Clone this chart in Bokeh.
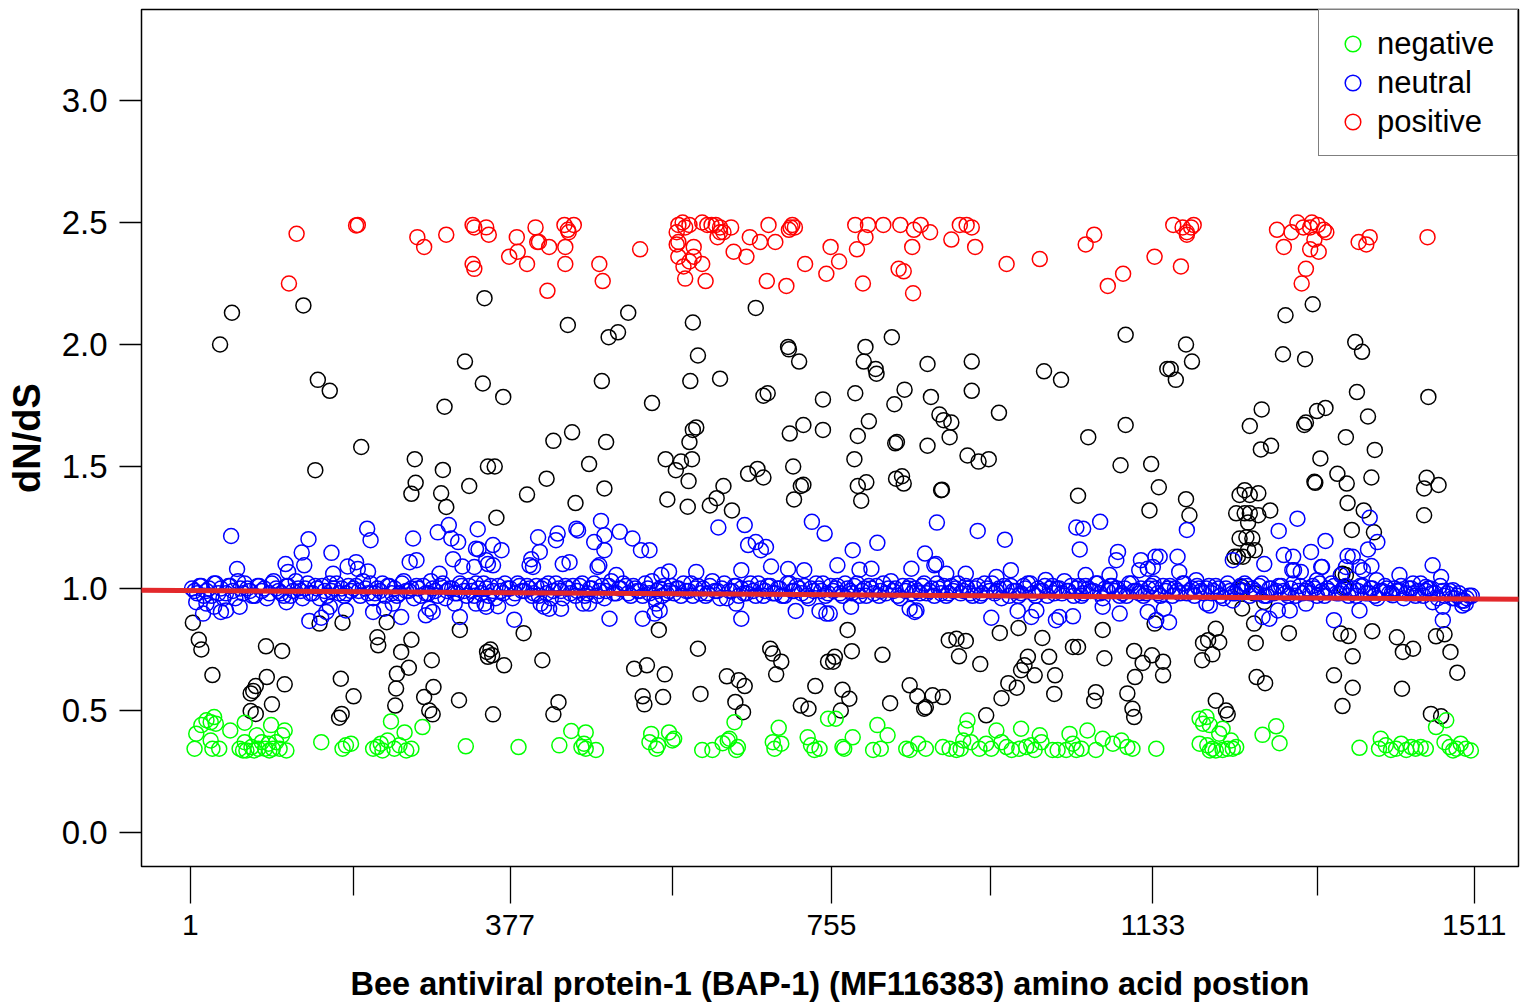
from bokeh.plotting import figure
from bokeh.models import Range1d, FixedTicker, PrintfTickFormatter, Slope
from bokeh.embed import file_html
from bokeh.resources import INLINE

# ---------------- data (amino acid position, dN/dS) ----------------
black_pts = [
    (50,2.13),(36,2.00),(134,2.16),(151,1.855),(165,1.81),(300,1.745),(324,1.93),(347,2.19),(345,1.84),(202,1.58),
    (148,1.485),(265,1.53),(266,1.433),(261,1.388),(298,1.486),(296,1.39),(302,1.334),(329,1.42),(351,1.50),
    (516,2.13),(504,2.05),(493,2.03),(445,2.08),(592,2.09),(666,2.15),(598,1.955),(704,1.99),(705,1.98),(717,1.93),
    (369,1.785),(485,1.85),(544,1.76),(589,1.85),(624,1.86),(675,1.79),(680,1.80),(745,1.775),(450,1.64),(428,1.605),
    (490,1.60),(596,1.66),(592,1.65),(588,1.60),(706,1.635),(722,1.67),(745,1.65),(359,1.50),(470,1.51),(420,1.45),
    (397,1.385),(488,1.41),(454,1.35),(361,1.29),(560,1.53),(578,1.52),(572,1.485),(591,1.53),(587,1.44),(562,1.365),
    (586,1.335),(628,1.42),(620,1.37),(612,1.34),(638,1.32),(657,1.47),(668,1.49),(675,1.455),(710,1.50),(719,1.42),
    (722,1.425),(711,1.365),
    (826,2.03),(795,1.99),(793,1.93),(807,1.90),(808,1.88),(868,1.92),(920,1.93),(1005,1.89),(1025,1.855),(1101,2.04),
    (1150,1.90),(783,1.80),(841,1.815),(829,1.755),(872,1.785),(920,1.81),(952,1.72),(799,1.685),(786,1.625),(830,1.595),
    (832,1.60),(868,1.585),(882,1.713),(887,1.69),(896,1.68),(894,1.62),(915,1.545),(928,1.52),(940,1.53),(1101,1.67),
    (1057,1.62),(1095,1.505),(1131,1.51),(1140,1.415),(782,1.53),(786,1.42),(796,1.435),(790,1.36),(831,1.45),(838,1.46),
    (840,1.43),(884,1.403),(885,1.405),(1045,1.38),(1129,1.32),
    (1321,2.165),(1289,2.12),(1172,2.00),(1179,1.93),(1154,1.90),(1160,1.855),(1286,1.96),(1312,1.94),(1371,2.01),(1379,1.97),
    (1457,1.785),(1373,1.805),(1261,1.734),(1247,1.666),(1326,1.727),(1336,1.74),(1313,1.68),(1311,1.67),(1386,1.705),(1360,1.62),
    (1394,1.568),(1260,1.57),(1272,1.585),(1330,1.533),(1350,1.47),(1361,1.43),(1390,1.455),(1323,1.437),(1324,1.433),(1455,1.454),
    (1452,1.41),(1469,1.424),(1452,1.30),(1172,1.366),(1176,1.30),(1362,1.35),(1381,1.32),(1393,1.23),(1367,1.24),
    (1241,1.403),(1235,1.383),(1247,1.383),(1257,1.39),(1231,1.308),(1241,1.308),(1247,1.308),(1257,1.30),(1271,1.32),(1245,1.27),
    (1235,1.205),(1243,1.21),(1250,1.205),(1245,1.157),(1253,1.157),(1229,1.13),(1233,1.13),(1239,1.13),
    (4,0.86),(11,0.79),(14,0.75),(27,0.645),(90,0.763),(109,0.744),(91,0.637),(112,0.607),(78,0.60),(72,0.57),
    (75,0.58),(97,0.525),(72,0.498),(78,0.486),(178,0.63),(193,0.558),(176,0.47),(179,0.486),(153,0.856),(180,0.86),
    (221,0.80),(222,0.767),(261,0.79),(249,0.74),(258,0.675),(244,0.65),(243,0.59),(242,0.52),(232,0.862),(285,0.706),
    (287,0.596),(276,0.555),(282,0.50),(286,0.484),(318,0.83),(317,0.542),(350,0.74),(351,0.72),
    (393,0.817),(354,0.75),(356,0.726),(370,0.685),(415,0.706),(357,0.484),(434,0.534),(428,0.484),(552,0.83),(523,0.671),
    (538,0.685),(559,0.648),(533,0.558),(535,0.525),(557,0.555),(598,0.753),(601,0.568),(632,0.64),(646,0.624),(653,0.60),
    (642,0.535),(651,0.493),(683,0.753),(686,0.733),(696,0.70),(690,0.648),(736,0.60),(719,0.52),(728,0.507),(751,0.70),
    (774,0.83),(779,0.743),(759,0.72),(757,0.70),(815,0.728),(768,0.585),(776,0.548),(766,0.50),(824,0.53),(847,0.603),
    (856,0.558),(874,0.562),(886,0.555),(864,0.507),(866,0.513),(893,0.788),(902,0.794),(913,0.785),(905,0.722),(930,0.69),
    (937,0.48),(953,0.818),(975,0.838),(1003,0.797),(986,0.72),(982,0.685),(978,0.665),(994,0.644),(963,0.612),(973,0.593),
    (955,0.55),(1011,0.72),(1018,0.644),(1017,0.568),(1039,0.76),(1045,0.76),(1074,0.83),(1076,0.714),(1066,0.575),(1064,0.54),
    (1111,0.744),(1132,0.726),(1121,0.695),(1145,0.70),(1145,0.644),(1112,0.637),(1103,0.57),(1109,0.507),(1111,0.473),(1135,0.856),
    (1207,0.835),(1211,0.78),(1198,0.788),(1192,0.777),(1203,0.73),(1191,0.706),(1207,0.54),(1219,0.50),(1221,0.484),(1238,0.918),
    (1237,0.993),(1252,0.856),(1254,0.777),(1255,0.637),(1265,0.612),(1293,0.817),(1354,0.815),(1363,0.805),(1368,0.722),(1346,0.644),
    (1368,0.593),(1356,0.518),(1356,1.06),(1360,1.055),(1358,1.006),(1391,0.825),(1420,0.80),(1427,0.74),(1439,0.753),(1426,0.589),
    (1466,0.804),(1476,0.812),(1483,0.74),(1491,0.655),(1460,0.486),(1472,0.476),(1252,0.98),(1264,0.945),(1238,1.006),
]

negative_pts = [
    (6,0.343),(8,0.405),(14,0.44),(20,0.46),(25,0.452),(29,0.473),(31,0.446),(25,0.377),(27,0.343),(35,0.343),
    (48,0.418),(65,0.45),(59,0.343),(65,0.37),(67,0.336),(73,0.35),(79,0.398),(81,0.343),(85,0.37),(89,0.343),
    (93,0.364),(96,0.44),(98,0.343),(102,0.37),(106,0.343),(109,0.398),(112,0.418),(114,0.336),(63,0.336),(76,0.336),
    (94,0.336),(155,0.37),(180,0.343),(184,0.357),(190,0.364),(216,0.343),(221,0.35),(227,0.336),(233,0.377),(237,0.455),
    (241,0.343),(247,0.357),(253,0.41),(255,0.336),(261,0.343),(225,0.364),(274,0.432),(325,0.353),
    (387,0.35),(435,0.357),(449,0.416),(466,0.41),(464,0.364),(466,0.343),(478,0.338),(461,0.35),(543,0.404),(541,0.37),
    (549,0.343),(551,0.357),(564,0.41),(568,0.377),(570,0.384),(603,0.338),(615,0.338),(627,0.366),(633,0.377),(635,0.384),
    (645,0.35),(643,0.338),(641,0.452),(693,0.429),(686,0.37),(688,0.343),(696,0.364),(727,0.39),(731,0.357),(735,0.338),
    (751,0.466),(741,0.343),(760,0.466),(770,0.343),(780,0.39),(768,0.35),(809,0.44),(821,0.398),(804,0.338),(813,0.343),
    (843,0.343),(847,0.338),(857,0.364),(866,0.343),(886,0.35),(894,0.343),(902,0.338),(910,0.377),(913,0.425),(915,0.459),
    (919,0.37),(907,0.343),(929,0.343),(937,0.364),(943,0.343),(949,0.418),(955,0.37),(961,0.35),(967,0.338),(978,0.425),
    (976,0.343),(984,0.35),(990,0.357),(994,0.338),(1000,0.398),(1002,0.37),(1015,0.338),(1021,0.338),(1031,0.338),(1035,0.404),
    (1039,0.364),(1043,0.338),(1049,0.343),(1056,0.418),(1066,0.338),(1074,0.384),(1086,0.364),(1096,0.377),(1103,0.35),(1109,0.343),
    (1137,0.343),(1188,0.466),(1196,0.473),(1192,0.446),(1200,0.44),(1215,0.425),(1225,0.377),(1211,0.405),(1188,0.364),(1197,0.357),
    (1203,0.343),(1207,0.336),(1215,0.338),(1221,0.343),(1227,0.343),(1231,0.35),(1200,0.336),(1262,0.40),(1278,0.435),(1282,0.366),
    (1376,0.347),(1401,0.384),(1407,0.357),(1413,0.338),(1419,0.343),(1425,0.364),(1431,0.338),(1437,0.35),(1442,0.343),(1448,0.35),
    (1454,0.343),(1399,0.343),(1478,0.46),(1466,0.432),(1476,0.37),(1482,0.35),(1490,0.343),(1495,0.364),(1501,0.343),(1507,0.336),
    (1486,0.336),
]

# dense run of neutral sites sitting on dN/dS ~ 1
neutral_band_pos = [
    3, 9, 14, 20, 26, 31, 37, 43, 48, 54,
    60, 65, 71, 77, 82, 88, 94, 99, 105, 111,
    116, 122, 128, 133, 139, 145, 150, 156, 162, 167,
    173, 179, 184, 190, 196, 201, 207, 213, 218, 224,
    230, 235, 241, 247, 252, 258, 264, 269, 275, 281,
    286, 292, 298, 303, 309, 315, 320, 326, 332, 337,
    343, 349, 354, 360, 366, 371, 377, 383, 388, 394,
    400, 405, 411, 417, 422, 428, 434, 439, 445, 451,
    456, 462, 468, 473, 479, 485, 490, 496, 502, 507,
    513, 519, 524, 530, 536, 541, 547, 553, 558, 564,
    570, 575, 581, 587, 592, 598, 604, 609, 615, 621,
    626, 632, 638, 643, 649, 655, 660, 666, 672, 677,
    683, 689, 694, 700, 706, 711, 717, 723, 728, 734,
    740, 745, 751, 757, 762, 768, 774, 779, 785, 791,
    796, 802, 808, 813, 819, 825, 830, 836, 842, 847,
    853, 859, 864, 870, 876, 881, 887, 893, 898, 904,
    910, 915, 921, 927, 932, 938, 944, 949, 955, 961,
    966, 972, 978, 983, 989, 995, 1000, 1006, 1012, 1017,
    1023, 1029, 1034, 1040, 1046, 1051, 1057, 1063, 1068, 1074,
    1080, 1085, 1091, 1097, 1102, 1108, 1114, 1119, 1125, 1131,
    1136, 1142, 1148, 1153, 1159, 1165, 1170, 1176, 1182, 1187,
    1193, 1199, 1204, 1210, 1216, 1221, 1227, 1233, 1238, 1244,
    1250, 1255, 1261, 1267, 1272, 1278, 1284, 1289, 1295, 1301,
    1306, 1312, 1318, 1323, 1329, 1335, 1340, 1346, 1352, 1357,
    1363, 1369, 1374, 1380, 1386, 1391, 1397, 1403, 1408, 1414,
    1420, 1425, 1431, 1437, 1442, 1448, 1454, 1459, 1465, 1471,
    1476, 1482, 1488, 1493, 1499, 1505,
]
neutral_band_val = [
    1.00, 0.98, 1.01, 0.99, 0.97, 1.02, 1.00, 0.98, 1.01, 0.96,
    1.00, 1.02, 0.99, 0.97, 1.01, 1.00, 0.98, 1.03, 0.99, 0.97,
    1.01, 0.99, 1.00, 0.96, 1.02, 0.98, 1.00, 1.01, 0.97, 0.99,
    1.02, 1.00, 0.98, 0.99, 1.01, 0.97, 1.00, 1.02, 0.98, 0.99,
    0.97, 1.01, 1.00, 0.98, 1.03, 0.99, 0.96, 1.00, 1.01, 0.98,
    1.00, 0.97, 1.02, 0.99, 1.00, 0.98, 1.01, 0.97, 0.99, 1.02,
    0.98, 1.00, 1.01, 0.96, 0.99, 1.02, 1.00, 0.98, 1.01, 0.99,
    1.00, 0.98, 0.97, 1.01, 1.02, 0.99, 1.00, 0.96, 1.00, 1.01,
    0.99, 1.02, 0.98, 1.00, 0.97, 1.01, 0.99, 1.03, 0.98, 1.00,
    1.01, 0.97, 1.00, 0.99, 1.02, 0.98, 0.96, 1.00, 1.01, 0.99,
    0.98, 1.00, 1.02, 0.99, 0.97, 1.01, 1.00, 0.98, 1.03, 0.99,
    1.00, 0.96, 0.99, 1.01, 1.00, 0.98, 1.02, 0.97, 1.00, 0.99,
    1.01, 0.98, 1.00, 0.97, 1.02, 0.99, 1.00, 1.01, 0.96, 0.99,
    1.00, 1.02, 0.98, 0.99, 1.01, 0.97, 1.00, 0.98, 1.02, 0.99,
    0.97, 1.00, 1.01, 0.99, 0.98, 1.03, 1.00, 0.96, 0.99, 1.01,
    1.00, 0.98, 1.02, 0.99, 0.97, 1.00, 1.01, 0.98, 0.99, 1.02,
    0.99, 1.00, 0.97, 1.01, 0.98, 1.00, 1.02, 0.99, 0.96, 1.00,
    1.01, 0.99, 0.98, 1.00, 1.02, 0.97, 0.99, 1.01, 1.00, 0.98,
    1.00, 1.03, 0.99, 0.97, 1.01, 0.98, 1.00, 0.99, 1.02, 0.96,
    0.99, 1.01, 1.00, 0.98, 0.97, 1.02, 0.99, 1.00, 0.98, 1.01,
    1.00, 0.97, 0.99, 1.01, 1.00, 0.98, 1.02, 0.99, 0.97, 1.00,
    0.98, 1.01, 0.99, 1.00, 0.96, 1.02, 0.98, 1.00, 0.99, 1.01,
    1.00, 0.98, 1.02, 0.97, 1.00, 0.99, 1.01, 0.98, 1.00, 0.97,
    1.01, 0.99, 0.98, 1.00, 1.02, 0.97, 0.99, 1.01, 0.98, 1.00,
    0.97, 1.00, 0.99, 1.01, 0.98, 1.00, 0.96, 0.99, 1.00, 0.98,
    0.99, 1.01, 0.98, 1.00, 0.97, 1.02, 0.99, 1.00, 0.98, 1.01,
    0.97, 0.99, 0.96, 0.98, 0.95, 0.97,
]
neutral_band2_pos = [
    6, 12, 17, 23, 29, 34, 40, 46, 51, 57,
    63, 68, 74, 80, 85, 91, 97, 102, 108, 114,
    119, 125, 131, 136, 142, 148, 153, 159, 165, 170,
    176, 182, 187, 193, 199, 204, 210, 216, 221, 227,
    233, 238, 244, 250, 255, 261, 267, 272, 278, 284,
    289, 295, 301, 306, 312, 318, 323, 329, 335, 340,
    346, 352, 357, 363, 369, 374, 380, 386, 391, 397,
    403, 408, 414, 420, 425, 431, 437, 442, 448, 454,
    459, 465, 471, 476, 482, 488, 493, 499, 505, 510,
    516, 522, 527, 533, 539, 544, 550, 556, 561, 567,
    573, 578, 584, 590, 595, 601, 607, 612, 618, 624,
    629, 635, 641, 646, 652, 658, 663, 669, 675, 680,
    686, 692, 697, 703, 709, 714, 720, 726, 731, 737,
    743, 748, 754, 760, 765, 771, 777, 782, 788, 794,
    799, 805, 811, 816, 822, 828, 833, 839, 845, 850,
    856, 862, 867, 873, 879, 884, 890, 896, 901, 907,
    913, 918, 924, 930, 935, 941, 947, 952, 958, 964,
    969, 975, 981, 986, 992, 998, 1003, 1009, 1015, 1020,
    1026, 1032, 1037, 1043, 1049, 1054, 1060, 1066, 1071, 1077,
    1083, 1088, 1094, 1100, 1105, 1111, 1117, 1122, 1128, 1134,
    1139, 1145, 1151, 1156, 1162, 1168, 1173, 1179, 1185, 1190,
    1196, 1202, 1207, 1213, 1219, 1224, 1230, 1236, 1241, 1247,
    1253, 1258, 1264, 1270, 1275, 1281, 1287, 1292, 1298, 1304,
    1309, 1315, 1321, 1326, 1332, 1338, 1343, 1349, 1355, 1360,
    1366, 1372, 1377, 1383, 1389, 1394, 1400, 1406, 1411, 1417,
    1423, 1428, 1434, 1440, 1445, 1451, 1457, 1462, 1468, 1474,
    1479, 1485, 1491, 1496, 1502, 1508,
]
neutral_band2_val = [
    0.99, 1.01, 0.97, 1.00, 1.02, 0.98, 0.96, 1.01, 0.99, 1.03,
    0.98, 1.00, 0.97, 1.01, 0.99, 0.96, 1.02, 1.00, 0.98, 1.01,
    0.97, 1.03, 0.99, 1.00, 0.98, 1.01, 0.96, 0.99, 1.02, 1.00,
    0.98, 0.97, 1.01, 1.00, 0.99, 1.03, 0.98, 0.96, 1.00, 1.02,
    1.01, 0.98, 0.97, 1.02, 0.99, 1.00, 1.01, 0.97, 0.98, 1.03,
    0.99, 1.01, 0.96, 1.00, 0.98, 1.02, 0.99, 1.01, 0.97, 1.00,
    1.02, 0.97, 0.99, 1.01, 0.98, 1.00, 0.96, 1.02, 0.99, 1.01,
    0.97, 1.01, 1.00, 0.98, 0.96, 1.02, 0.99, 1.01, 0.98, 0.97,
    1.01, 0.97, 1.00, 1.02, 0.99, 0.96, 1.01, 0.98, 1.00, 1.02,
    0.98, 1.01, 0.99, 0.97, 1.00, 1.03, 0.99, 0.97, 0.98, 1.01,
    1.00, 0.97, 0.99, 1.02, 1.00, 0.98, 0.97, 1.01, 0.99, 0.96,
    1.02, 0.99, 1.01, 0.97, 0.98, 1.00, 0.99, 1.02, 0.97, 1.01,
    0.98, 1.00, 0.97, 1.02, 0.99, 1.01, 0.98, 0.97, 1.00, 1.02,
    0.99, 0.97, 1.01, 1.00, 0.98, 1.02, 0.99, 1.01, 0.97, 1.00,
    1.01, 0.98, 0.97, 1.02, 1.00, 0.99, 0.97, 1.01, 1.00, 0.98,
    0.99, 1.01, 0.98, 1.00, 1.02, 0.98, 0.97, 1.01, 1.00, 0.98,
    1.01, 0.98, 1.00, 0.97, 1.02, 0.99, 0.98, 1.00, 1.01, 0.97,
    0.99, 0.97, 1.01, 1.02, 0.98, 1.00, 0.99, 0.97, 1.01, 1.00,
    0.98, 0.99, 1.01, 1.00, 0.97, 1.01, 0.99, 1.02, 0.98, 1.00,
    1.01, 0.99, 0.97, 1.00, 1.02, 0.99, 0.98, 0.97, 1.00, 1.02,
    0.98, 1.01, 1.00, 0.97, 0.99, 1.02, 0.98, 1.00, 1.01, 0.99,
    1.00, 0.98, 1.01, 0.97, 1.00, 0.99, 0.98, 1.01, 1.02, 0.97,
    0.99, 1.01, 0.97, 1.00, 0.98, 1.01, 0.99, 0.97, 1.02, 0.99,
    0.98, 1.00, 1.01, 0.97, 0.99, 1.00, 1.02, 0.98, 0.99, 1.01,
    0.99, 0.97, 1.01, 0.98, 1.00, 0.97, 0.99, 1.01, 0.98, 1.00,
    0.99, 0.96, 1.00, 0.98, 0.99, 0.97, 1.00, 0.98, 0.96, 0.99,
    0.98, 0.96, 0.97, 0.95, 0.96, 0.97,
]

neutral_pts = [
    (49,1.215),(56,1.08),(140,1.202),(132,1.147),(113,1.10),(135,1.095),(116,1.068),(167,1.146),(169,1.06),(186,1.09),
    (196,1.108),(198,1.08),(210,1.07),(209,1.245),(213,1.198),(263,1.205),(259,1.108),(267,1.116),(292,1.23),(305,1.26),
    (308,1.205),(316,1.19),(310,1.12),(321,1.09),(294,1.06),(339,1.243),(337,1.163),(340,1.16),(349,1.116),(335,1.088),
    (357,1.178),(367,1.157),(351,1.10),(410,1.21),(412,1.15),(402,1.12),(404,1.088),(433,1.225),(431,1.198),(455,1.245),
    (457,1.238),(447,1.108),(439,1.10),(484,1.277),(488,1.218),(476,1.19),(488,1.157),(506,1.232),(521,1.205),(531,1.157),
    (541,1.157),(480,1.088),(622,1.25),(653,1.26),(657,1.178),(666,1.19),(678,1.17),(672,1.157),(649,1.075),(596,1.068),
    (564,1.07),(704,1.08),(723,1.075),(732,1.273),(747,1.225),
    (879,1.27),(927,1.236),(959,1.20),(780,1.157),(809,1.187),(762,1.095),(788,1.077),(802,1.081),(865,1.143),(878,1.10),
    (849,1.081),(1043,1.25),(1051,1.245),(1071,1.273),(1047,1.16),(1092,1.15),(1090,1.116),(1119,1.116),(1136,1.13),(1117,1.075),
    (1127,1.081),(913,1.06),(949,1.047),(966,1.075),
    (1173,1.24),(1162,1.13),(1164,1.068),(1141,1.13),(1303,1.286),(1281,1.236),(1336,1.195),(1319,1.15),(1287,1.137),(1298,1.13),
    (1264,1.10),(1299,1.075),(1307,1.068),(1331,1.088),(1388,1.29),(1397,1.19),(1386,1.16),(1362,1.133),(1368,1.13),(1390,1.092),
    (1376,1.088),(1380,1.075),(1462,1.095),(1423,1.055),(1472,1.047),
    (16,0.897),(37,0.904),(43,0.91),(59,0.925),(29,0.925),(20,0.938),(8,0.944),(114,0.944),(141,0.867),(155,0.88),
    (161,0.904),(165,0.925),(184,0.91),(216,0.904),(229,0.917),(249,0.883),(239,0.938),(278,0.89),(282,0.917),(286,0.904),
    (312,0.938),(318,0.883),(337,0.938),(349,0.925),(347,0.938),(363,0.927),(382,0.872),(417,0.925),(423,0.917),(437,0.917),
    (413,0.938),(463,0.938),(470,0.938),(494,0.876),(533,0.876),(547,0.897),(553,0.91),(549,0.938),(649,0.876),(643,0.938),
    (713,0.908),(741,0.908),(749,0.897),(684,1.09),(555,1.055),(400,1.095),(482,1.095),(502,1.055),(357,1.095),
    (753,0.897),(778,0.925),(847,0.917),(853,0.904),(855,0.91),(943,0.88),(974,0.908),(990,0.883),(996,0.91),(1019,0.87),
    (1023,0.883),(1039,0.886),(1074,0.925),(1094,0.897),(1127,0.904),(1137,0.87),(876,1.095),(890,1.06),(1007,1.035),(1054,1.055),
    (1082,1.055),(1133,1.088),(1146,0.917),(1152,0.862),(1196,0.938),(1200,0.93),(1227,0.951),(1262,0.883),(1270,0.876),(1280,0.91),
    (1294,0.91),(1313,0.938),(1346,0.87),(1376,0.91),(1462,0.944),(1474,0.925),(1474,0.87),(1497,0.93),(1501,0.938),(1415,0.972),
    (1184,1.034),(1227,1.116),(1297,1.075),(1326,1.034),(1332,1.088),(1354,1.055),(1360,1.088),(1396,1.034),(1439,1.02),(1454,1.006),
    (1486,0.993),
]

positive_pts = [
    (117,2.25),(126,2.454),(196,2.488),(198,2.49),(268,2.44),(276,2.40),(302,2.45),(333,2.49),(335,2.48),(349,2.48),
    (352,2.45),(333,2.33),(335,2.31),(385,2.44),(376,2.36),(386,2.38),(397,2.33),(407,2.48),(409,2.42),(411,2.42),
    (423,2.40),(441,2.49),(452,2.49),(446,2.46),(442,2.40),(445,2.47),(442,2.33),(482,2.33),(486,2.26),(530,2.39),
    (421,2.22),(575,2.49),(580,2.50),(583,2.48),(588,2.49),(603,2.50),(609,2.49),(614,2.49),(619,2.49),(624,2.48),
    (637,2.48),(573,2.46),(575,2.42),(573,2.41),(575,2.36),(581,2.32),(583,2.27),(588,2.34),(593,2.40),(593,2.36),
    (603,2.33),(621,2.44),(624,2.46),(628,2.46),(607,2.26),(640,2.38),(655,2.36),(659,2.44),(671,2.42),(681,2.49),
    (689,2.42),(702,2.24),(707,2.48),(709,2.49),(712,2.48),(705,2.47),(679,2.26),(724,2.33),(749,2.29),(754,2.40),
    (764,2.34),(785,2.39),(783,2.49),(795,2.44),(798,2.49),(816,2.49),(836,2.49),(852,2.47),(860,2.49),(871,2.46),
    (850,2.40),(834,2.31),(840,2.30),(792,2.25),(851,2.21),(896,2.43),(906,2.49),(914,2.49),(920,2.48),(924,2.40),
    (961,2.33),(1000,2.35),(1054,2.41),(1064,2.45),(1080,2.24),(1098,2.29),(1135,2.36),(1166,2.32),(1157,2.49),(1168,2.48),
    (1173,2.46),(1178,2.48),(1173,2.45),(1181,2.49),(1279,2.47),(1287,2.40),(1296,2.46),(1303,2.50),(1308,2.25),(1313,2.31),
    (1318,2.39),(1320,2.50),(1327,2.49),(1328,2.38),(1334,2.47),(1337,2.46),(1323,2.43),(1318,2.48),(1310,2.48),(1375,2.42),
    (1384,2.41),(1388,2.44),(1456,2.44),
]

assert len(neutral_band_pos) == len(neutral_band_val)
assert len(neutral_band2_pos) == len(neutral_band2_val)

# linear trend of dN/dS along the protein
trend_intercept = 0.9915
trend_slope = -2.29e-5

x_major_ticks = [1, 377, 755, 1133, 1511]
x_minor_ticks = [193, 568, 942, 1327]
y_ticks = [0.0, 0.5, 1.0, 1.5, 2.0, 2.5, 3.0]

FONT = "Liberation Sans"

p = figure(width=1521, height=1004,
           x_range=Range1d(-56.4, 1563), y_range=Range1d(-0.1395, 3.373),
           output_backend="svg", toolbar_location=None,
           min_border_left=141, min_border_right=3, min_border_top=9, min_border_bottom=100)

p.grid.visible = False
p.outline_line_color = "black"
p.outline_line_width = 1.5
p.background_fill_color = "white"
p.border_fill_color = "white"

def split(pts):
    return [a for a, b in pts], [b for a, b in pts]

bx, by = split(black_pts)
p.scatter(bx, by, marker="circle", size=15, fill_color=None, line_color="black", line_width=1.5)

gx, gy = split(negative_pts)
p.scatter(gx, gy, marker="circle", size=15, fill_color=None, line_color="#00ff00", line_width=1.5,
          legend_label="negative")

nx, ny = split(neutral_pts)
p.scatter(neutral_band_pos + neutral_band2_pos + nx, neutral_band_val + neutral_band2_val + ny,
          marker="circle", size=15, fill_color=None, line_color="#0000ff", line_width=1.5,
          legend_label="neutral")

rx, ry = split(positive_pts)
p.scatter(rx, ry, marker="circle", size=15, fill_color=None, line_color="#ff0000", line_width=1.5,
          legend_label="positive")

p.add_layout(Slope(gradient=trend_slope, y_intercept=trend_intercept, line_color="#e3282b", line_width=5))

# x axis
xa = p.xaxis[0]
xa.ticker = FixedTicker(ticks=x_major_ticks, minor_ticks=x_minor_ticks)
xa.axis_line_color = None
xa.major_tick_in = 0
xa.major_tick_out = 37
xa.minor_tick_in = 0
xa.minor_tick_out = 29
xa.major_tick_line_color = "black"
xa.minor_tick_line_color = "black"
xa.major_tick_line_width = 1.3
xa.minor_tick_line_width = 1.3
xa.major_label_text_font = FONT
xa.major_label_text_font_size = "30px"
xa.major_label_text_color = "black"
xa.major_label_standoff = 11
xa.axis_label = "Bee antiviral protein-1 (BAP-1) (MF116383) amino acid postion"
xa.axis_label_text_font = FONT
xa.axis_label_text_font_size = "32.5px"
xa.axis_label_text_font_style = "bold"
xa.axis_label_text_color = "black"
xa.axis_label_standoff = 28

# y axis
ya = p.yaxis[0]
ya.ticker = FixedTicker(ticks=y_ticks)
ya.formatter = PrintfTickFormatter(format="%.1f")
ya.axis_line_color = None
ya.major_tick_in = 0
ya.major_tick_out = 22
ya.minor_tick_out = 0
ya.minor_tick_in = 0
ya.major_tick_line_color = "black"
ya.major_tick_line_width = 1.3
ya.major_label_text_font = FONT
ya.major_label_text_font_size = "33px"
ya.major_label_text_color = "black"
ya.major_label_standoff = 12
ya.axis_label = "dN/dS"
ya.axis_label_text_font = FONT
ya.axis_label_text_font_size = "38px"
ya.axis_label_text_font_style = "bold"
ya.axis_label_text_color = "black"
ya.axis_label_standoff = 11

# legend
lg = p.legend[0]
lg.location = "top_right"
lg.margin = 0
lg.padding = 14
lg.spacing = 0
lg.glyph_width = 39
lg.glyph_height = 39
lg.label_height = 39
lg.label_standoff = 5
lg.label_width = 126
lg.label_text_font = FONT
lg.label_text_font_size = "31px"
lg.label_text_color = "black"
lg.border_line_color = "black"
lg.border_line_width = 1.5
lg.background_fill_color = "white"
lg.background_fill_alpha = 1.0

open("out.html", "w").write(file_html(p, INLINE))
